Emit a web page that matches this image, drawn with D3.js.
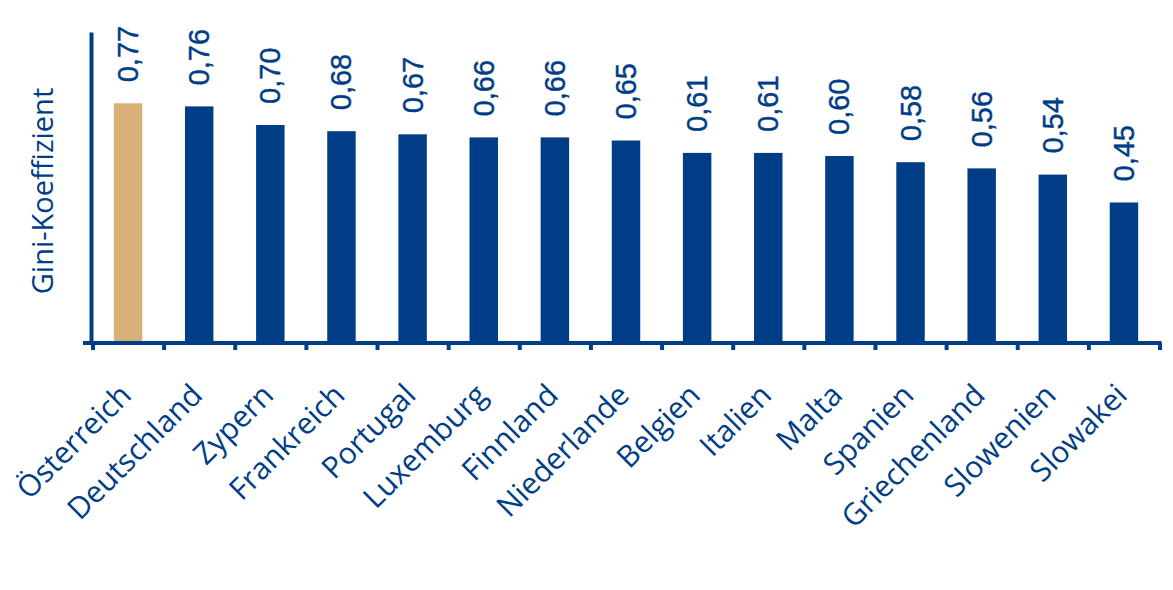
<!DOCTYPE html>
<html>
<head>
<meta charset="utf-8">
<script src="https://cdn.jsdelivr.net/npm/d3@7"></script>
<style>
  html, body { margin: 0; padding: 0; background: #fff; }
  svg { display: block; }
</style>
</head>
<body>
<svg id="chart" width="1173" height="590"></svg>
<script>
const categories = ["Österreich", "Deutschland", "Zypern", "Frankreich", "Portugal", "Luxemburg", "Finnland", "Niederlande", "Belgien", "Italien", "Malta", "Spanien", "Griechenland", "Slowenien", "Slowakei"];
const giniValues = [0.77, 0.76, 0.70, 0.68, 0.67, 0.66, 0.66, 0.65, 0.61, 0.61, 0.60, 0.58, 0.56, 0.54, 0.45];
const valueLabels = ["0,77", "0,76", "0,70", "0,68", "0,67", "0,66", "0,66", "0,65", "0,61", "0,61", "0,60", "0,58", "0,56", "0,54", "0,45"];
const highlighted = ["Österreich"];
const yTitle = "Gini-Koeffizient";

const BLUE = "#003d87";
const GOLD = "#d6b074";

const svg = d3.select("#chart");
const mLeft = 92.5, mRight = 1159.5, mTop = 32, mBottom = 342;

const x = d3.scaleBand().domain(categories).range([mLeft, mRight]).paddingInner(0.6).paddingOuter(0.3);
const y = d3.scaleLinear().domain([0, 1]).range([mBottom, mTop]);
const xb = d3.scaleLinear().domain([0, categories.length]).range([mLeft, mRight]);

// bars
svg.append("g").selectAll("rect").data(categories).join("rect")
  .attr("x", d => x(d))
  .attr("width", x.bandwidth())
  .attr("y", (d, i) => y(giniValues[i]))
  .attr("height", (d, i) => y(0) - y(giniValues[i]))
  .attr("fill", d => highlighted.includes(d) ? GOLD : BLUE);

// value labels
svg.append("g").selectAll("text").data(categories).join("text")
  .attr("transform", (d, i) => `translate(${x(d) + x.bandwidth() / 2 + 10},${y(giniValues[i]) - 21}) rotate(-90)`)
  .attr("font-family", "Liberation Sans, Arial, sans-serif")
  .attr("font-size", 29)
  .attr("stroke", BLUE).attr("stroke-width", 0.4)
  .attr("fill", BLUE)
  .text((d, i) => valueLabels[i]);

// y axis
const yAxis = svg.append("g").attr("transform", `translate(${mLeft - 1.5},0)`)
  .call(d3.axisLeft(y).tickValues([]).tickSizeOuter(0));
yAxis.select(".domain").attr("stroke", BLUE).attr("stroke-width", 4);

// x axis
const xAxis = svg.append("g").attr("transform", `translate(0,${mBottom + 1})`)
  .call(d3.axisBottom(xb).tickValues(d3.range(categories.length + 1)).tickFormat("").tickSizeInner(7).tickSizeOuter(0));
xAxis.select(".domain").remove();
xAxis.selectAll(".tick line").attr("stroke", BLUE).attr("stroke-width", 4);
xAxis.append("line").attr("x1", 83).attr("x2", mRight + 2).attr("y1", 0).attr("y2", 0)
  .attr("stroke", BLUE).attr("stroke-width", 4);

// category labels
svg.append("g").selectAll("text").data(categories).join("text")
  .attr("transform", d => `translate(${x(d) + x.bandwidth() / 2 + 5},${mBottom + 55}) rotate(-45)`)
  .attr("text-anchor", "end")
  .attr("font-family", "Open Sans, sans-serif")
  .attr("font-size", 30)
  .attr("fill", BLUE)
  .text(d => d);

// y title
svg.append("text")
  .attr("transform", `translate(53,191) rotate(-90)`)
  .attr("text-anchor", "middle")
  .attr("font-family", "Open Sans, sans-serif")
  .attr("font-size", 29)
  .attr("font-weight", 500)
  .attr("fill", BLUE)
  .text(yTitle);
</script>
</body>
</html>
